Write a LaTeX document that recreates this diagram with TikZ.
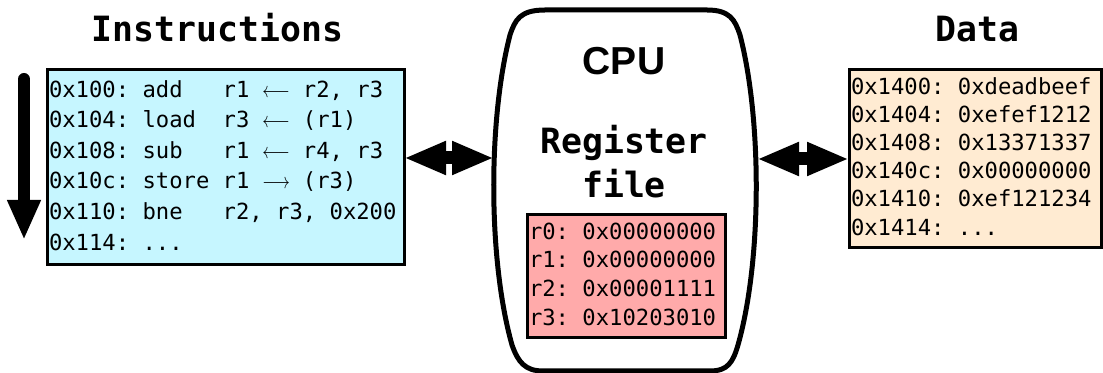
\documentclass[tikz,border=0pt]{standalone}
\usepackage{graphicx}
\usepackage{fontspec}
\setmonofont{DejaVu Sans Mono}
\newfontfamily\cpufont{Liberation Sans}
\usetikzlibrary{arrows.meta,positioning}

\definecolor{instrfill}{HTML}{C6F6FF}
\definecolor{datafill}{HTML}{FFEBD2}
\definecolor{regfill}{HTML}{FFAAAA}

% one fixed column of the mono font
\newcommand{\blank}{\hphantom{0}}
\newcommand{\loadarrow}{\blank\makebox[2\fontcharwd\font`0][c]{\scalebox{0.78}[1]{$\longleftarrow$}}\blank}
\newcommand{\storearrow}{\blank\makebox[2\fontcharwd\font`0][c]{\scalebox{0.78}[1]{$\longrightarrow$}}\blank}

\begin{document}
\begin{tikzpicture}[x=0.5pt,y=-0.5pt]
  \tikzstyle{membox} = [draw,line width=1.5pt,anchor=north west,align=left,outer sep=0pt,inner xsep=1pt,inner ysep=0pt]
  \tikzstyle{title} = [inner sep=0pt,font=\ttfamily\bfseries\fontsize{17.4}{22}\selectfont]
  \tikzstyle{bus} = [line width=6.5pt,{Triangle[length=21pt,width=15.5pt]}-{Triangle[length=21pt,width=15.5pt]}]
  \tikzstyle{flow} = [line width=6pt,line cap=round,-{Triangle[length=20pt,width=15.5pt]}]

  \useasboundingbox (0,0) rectangle (1103,373);

  % memories
  \node[membox,fill=instrfill,minimum width=178.5pt,text width=176.5pt,minimum height=97.5pt,
        font=\ttfamily\fontsize{11.1}{15.3}\selectfont] (instr) at (47,70)
    {\strut 0x100:\blank add\blank\blank\blank r1\loadarrow r2,\blank r3\\
     0x104:\blank load\blank\blank r3\loadarrow (r1)\\
     0x108:\blank sub\blank\blank\blank r1\loadarrow r4,\blank r3\\
     0x10c:\blank store\blank r1\storearrow (r3)\\
     0x110:\blank bne\blank\blank\blank r2,\blank r3,\blank 0x200\\
     0x114:\blank ...\strut};
  \node[membox,fill=datafill,minimum width=126.25pt,text width=124.25pt,minimum height=89pt,
        font=\ttfamily\fontsize{11.1}{14.1}\selectfont] (data) at (849,70)
    {\strut 0x1400:\blank 0xdeadbeef\\
     0x1404:\blank 0xefef1212\\
     0x1408:\blank 0x13371337\\
     0x140c:\blank 0x00000000\\
     0x1410:\blank 0xef121234\\
     0x1414:\blank ...\strut};
  \node[title] (instr-label) [above=14pt of instr,xshift=-4pt] {Instructions};
  \node[title] (data-label) [above=14pt of data,xshift=1pt] {Data};

  % cpu
  \draw[line width=2.5pt] (545,10) -- (707,10) .. controls (730,10) and (735,20) .. (740,35)
    .. controls (762,120) and (762,260) .. (738,345) .. controls (733,362) and (728,371) .. (710,371)
    -- (543,371) .. controls (525,371) and (518,362) .. (512,345)
    .. controls (488,260) and (488,120) .. (510,35) .. controls (515,20) and (520,10) .. (545,10) -- cycle;
  \coordinate (cpuW) at (494,158);
  \coordinate (cpuE) at (757,159);
  \node[anchor=base,inner sep=0pt,font=\cpufont\bfseries\fontsize{19.5}{22}\selectfont] (cpu) at (624,75) {CPU};
  \node[title,align=center] (regs-label) at (624,162) {Register\\file};
  \node[membox,fill=regfill,minimum width=99pt,text width=97pt,minimum height=61.5pt,
        font=\ttfamily\fontsize{11.1}{14.3}\selectfont] (regs) at (527,215)
    {\strut r0:\blank 0x00000000\\
     r1:\blank 0x00000000\\
     r2:\blank 0x00001111\\
     r3:\blank 0x10203010\strut};

  % buses
  \draw[bus] (instr.east |- cpuW) -- (cpuW);
  \draw[bus] (cpuE) -- (data.west);

  % program order
  \coordinate (pc-top) at (24,79);
  \coordinate (pc-end) at (24,240);
  \draw[flow] (pc-top) -- (pc-end);
\end{tikzpicture}
\end{document}
